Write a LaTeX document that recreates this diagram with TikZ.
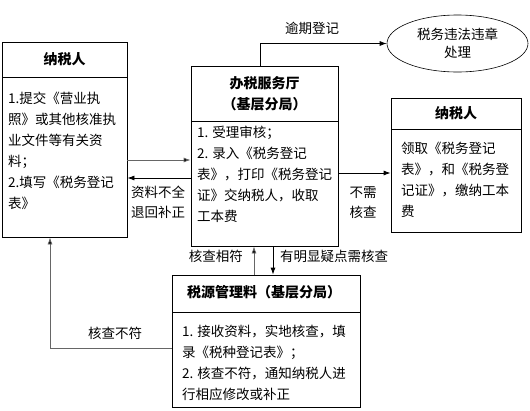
\documentclass[tikz,border=0pt]{standalone}
\usepackage{fontspec}
\setmainfont{Noto Sans CJK SC}
\usetikzlibrary{arrows.meta,shapes.geometric}
\begin{document}
\begin{tikzpicture}[x=1pt,y=1pt,
  box/.style={draw=black,line width=0.8pt,inner sep=0pt},
  hdr/.style={font=\fontsize{14}{21}\selectfont\bfseries,align=center,inner sep=0pt},
  body/.style={font=\fontsize{13.5}{21}\selectfont,align=left,anchor=north west,inner sep=0pt},
  lbl/.style={font=\fontsize{13.5}{20}\selectfont,align=center,inner sep=0pt},
  arr/.style={line width=0.8pt,-{Latex[length=7pt,width=5pt]}},
  garr/.style={arr,draw=black!60,-{Latex[length=7pt,width=5pt,fill=black]}},
  divl/.style={line width=0.8pt}]
\useasboundingbox (0,0) rectangle (530,-410);
% left box
\node[box,minimum width=125,minimum height=195] (L) at (64.5,-139.5) {};
\draw[divl] (2,-77) -- (127,-77);
\node[hdr] (Lh) at (64.5,-59) {纳税人};
\node[body] (Lb) at (8,-92) {1.提交《营业执\\照》或其他核准执\\业文件等有关资\\料；\\2.填写《税务登记\\表》};
% middle box
\node[box,minimum width=147,minimum height=180] (M) at (264.5,-156) {};
\draw[divl] (191,-121) -- (338,-121);
\node[hdr] (Mh) at (264.5,-94) {办税服务厅\\（基层分局）};
\node[body] (Mb) at (197,-126) {1. 受理审核；\\2. 录入《税务登记\\表》，打印《税务登记\\证》交纳税人，收取\\工本费};
% right box
\node[box,minimum width=130,minimum height=134] (R) at (456,-165) {};
\draw[divl] (391,-129) -- (521,-129);
\node[hdr] (Rh) at (456,-113) {纳税人};
\node[body] (Rb) at (401,-142) {领取《税务登记\\表》，和《税务登\\记证》，缴纳工本\\费};
% bottom box
\node[box,minimum width=188,minimum height=132] (B) at (266,-341) {};
\draw[divl] (172,-312) -- (360,-312);
\node[hdr] (Bh) at (264,-292) {税源管理料（基层分局）};
\node[body] (Bb) at (182,-325) {1. 接收资料，实地核查，填\\录《税种登记表》；\\2. 核查不符，通知纳税人进\\行相应修改或补正};
% ellipse
\node[draw,ellipse,line width=0.6pt,minimum width=141,minimum height=57,inner sep=0pt,align=center,font=\fontsize{13.5}{18}\selectfont] (E) at (457.5,-43.5) {税务违法违章\\处理};
% connectors
\coordinate (c1) at (0,-160);
\coordinate (c2) at (0,-178);
\coordinate (c3) at (0,-173);
\coordinate (c4) at (50,-348);
\draw[arr] ([xshift=-4.5pt]M.north) |- (E.west);
\node[lbl] (t1) at (312,-28) {逾期登记};
\draw[garr] (L.east |- c1) -- (M.west |- c1);
\draw[arr] (M.west |- c2) -- (L.east |- c2);
\node[lbl] (t2) at (158,-202) {资料不全\\退回补正};
\draw[arr] (M.east |- c3) -- (R.west |- c3);
\node[lbl] (t3) at (363,-203) {不需\\核查};
\draw[garr] ([xshift=-12pt]B.north) -- ([xshift=-10.5pt]M.south);
\draw[arr] ([xshift=8.5pt]M.south) -- ([xshift=7pt]B.north);
\node[lbl,anchor=east] (t4) at (243,-256) {核查相符};
\node[lbl,anchor=west] (t5) at (280,-256) {有明显疑点需核查};
\draw[garr] (B.west |- c4) -- (c4) -- (L.south -| c4);
\node[lbl] (t6) at (115,-333) {核查不符};
\end{tikzpicture}
\end{document}
